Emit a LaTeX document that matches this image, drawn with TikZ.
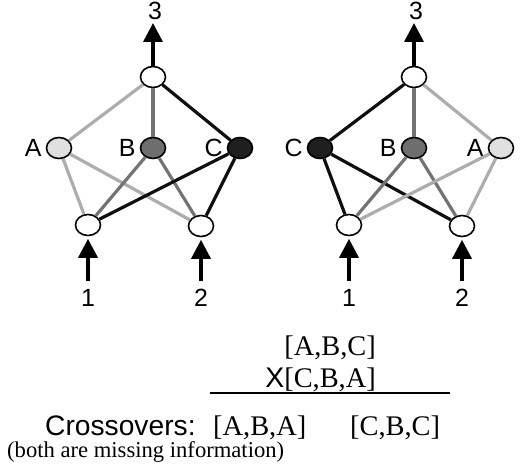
\documentclass[tikz,border=0pt]{standalone}
\usepackage{fontspec}
\setmainfont{Liberation Serif}
\setsansfont{Liberation Sans}
\usetikzlibrary{arrows.meta,shapes.geometric}
\definecolor{afill}{gray}{0.88}
\definecolor{bfill}{gray}{0.43}
\definecolor{cfill}{gray}{0.12}
\definecolor{aline}{gray}{0.68}
\definecolor{bline}{gray}{0.45}
\definecolor{cline}{gray}{0.06}
\begin{document}
\begin{tikzpicture}[x=1bp,y=-1bp,
  vtx/.style={shape=ellipse,draw=black,fill=white,line width=1.6bp,minimum width=25bp,minimum height=21bp,inner sep=0pt},
  lab/.style={font=\sffamily\fontsize{25}{29}\selectfont,inner sep=0pt},
  vlab/.style={label={[lab,label distance=4bp]left:#1}},
  ea/.style={draw=aline,line width=3.2bp},
  eb/.style={draw=bline,line width=3.2bp},
  ec/.style={draw=cline,line width=3.2bp},
  arr/.style={draw=black,line width=3.5bp,-{Triangle[width=19bp,length=19bp]}},
  serif/.style={font=\rmfamily\fontsize{28.5}{32}\selectfont,inner sep=0pt},
  small/.style={font=\rmfamily\fontsize{22.7}{26}\selectfont,inner sep=0pt},
  big/.style={font=\sffamily\fontsize{28.3}{32}\selectfont,inner sep=0pt}]
\useasboundingbox (0,0) rectangle (532,476);
% ---- left graph ----
\node[vtx] (t1) at (153,77) {};
\node[vtx,fill=afill,vlab=A] (a1) at (59,148) {};
\node[vtx,fill=bfill,vlab=B] (b1) at (153,148) {};
\node[vtx,fill=cfill,vlab=C] (c1) at (240,148) {};
\node[vtx] (l1) at (88,225) {};
\node[vtx] (r1) at (201,226) {};
\draw[ea] (t1) -- (a1);
\draw[eb] (t1) -- (b1);
\draw[ec] (t1) -- (c1);
\draw[ea] (a1) -- (l1);
\draw[ea] (a1) -- (r1);
\draw[eb] (b1) -- (l1);
\draw[eb] (b1) -- (r1);
\draw[ec] (c1) -- (l1);
\draw[ec] (c1) -- (r1);
\coordinate (i1) at (88,281);
\coordinate (j1) at (201,281);
\coordinate (o1) at (153,23);
\draw[arr,shorten >=2.5bp] (i1) -- (l1);
\draw[arr,shorten >=2.5bp] (j1) -- (r1);
\draw[arr] (t1) -- (o1);
\node[lab] (n1) at (88,298) {1};
\node[lab] (n2) at (201,298) {2};
\node[lab] (n3) at (155,11) {3};
% ---- right graph ----
\node[vtx] (t2) at (414,77) {};
\node[vtx,fill=cfill,vlab=C] (c2) at (320,148) {};
\node[vtx,fill=bfill,vlab=B] (b2) at (414,148) {};
\node[vtx,fill=afill,vlab=A] (a2) at (501,148) {};
\node[vtx] (l2) at (349,225) {};
\node[vtx] (r2) at (462,226) {};
\draw[ec] (t2) -- (c2);
\draw[eb] (t2) -- (b2);
\draw[ea] (t2) -- (a2);
\draw[ec] (c2) -- (l2);
\draw[ec] (c2) -- (r2);
\draw[eb] (b2) -- (l2);
\draw[eb] (b2) -- (r2);
\draw[ea] (a2) -- (l2);
\draw[ea] (a2) -- (r2);
\coordinate (i2) at (349,281);
\coordinate (j2) at (462,281);
\coordinate (o2) at (414,23);
\draw[arr,shorten >=2.5bp] (i2) -- (l2);
\draw[arr,shorten >=2.5bp] (j2) -- (r2);
\draw[arr] (t2) -- (o2);
\node[lab] (m1) at (349,298) {1};
\node[lab] (m2) at (462,298) {2};
\node[lab] (m3) at (416,11) {3};
% ---- text ----
\node[serif,anchor=base east] (p1) at (376,355) {[A,B,C]};
\node[serif,anchor=base east] (p2) at (376,387) {{\sffamily X}[C,B,A]};
\coordinate (h1) at (210,393);
\coordinate (h2) at (450,393);
\draw[line width=1.4bp] (h1) -- (h2);
\node[big,anchor=base west] (cr) at (45,435) {Crossovers:};
\node[serif,anchor=base west] (x1) at (213,435) {[A,B,A]};
\node[serif,anchor=base west] (x2) at (350,435) {[C,B,C]};
\node[small,anchor=base west] (bt) at (7,457) {(both are missing information)};
\end{tikzpicture}
\end{document}
